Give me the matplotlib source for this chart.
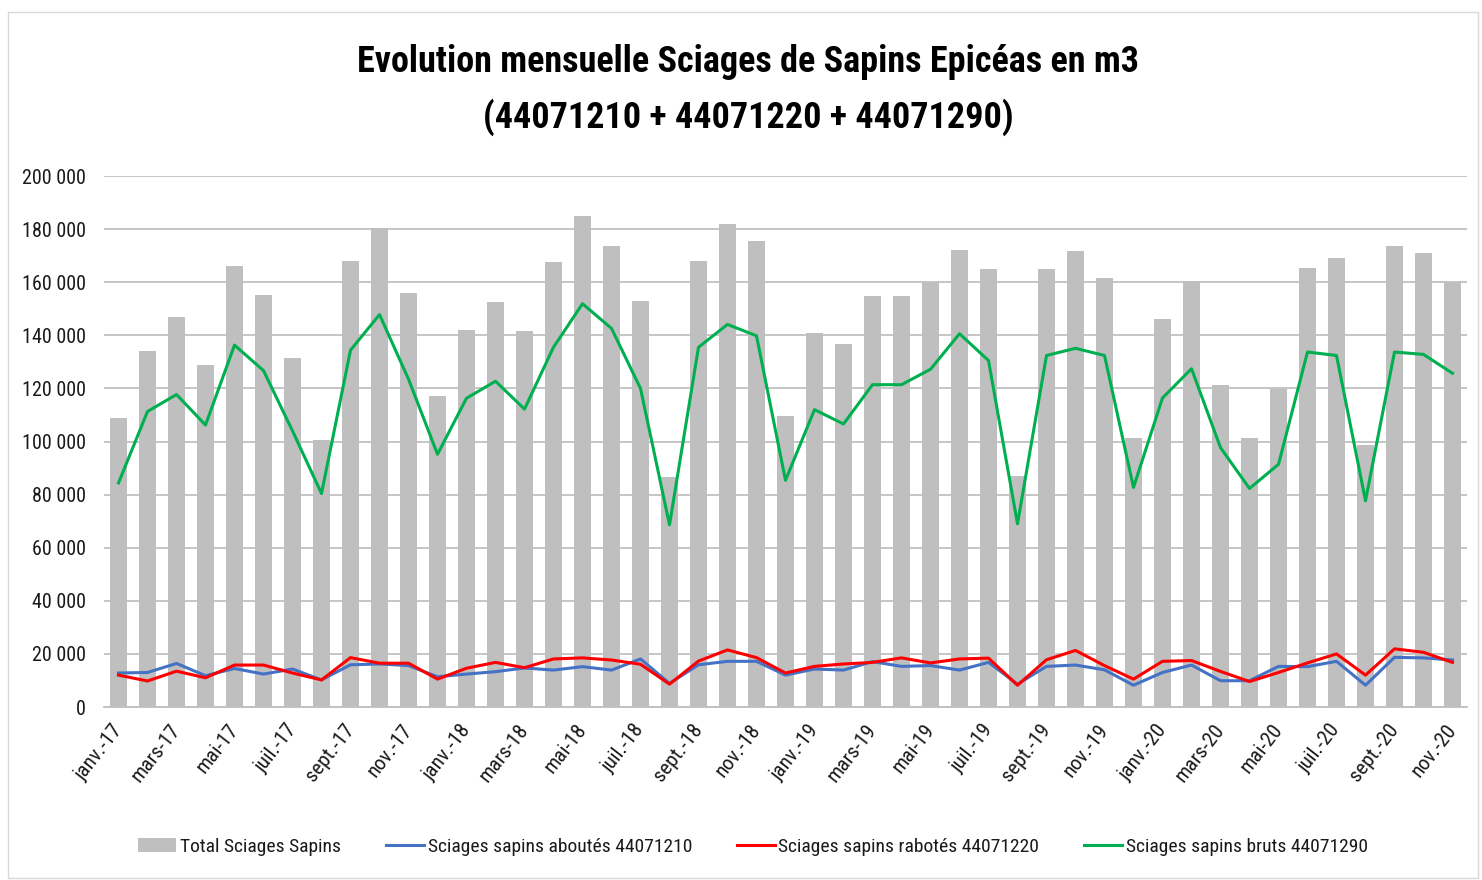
import matplotlib
matplotlib.use("Agg")
import matplotlib.pyplot as plt
import numpy as np
from matplotlib.patches import Rectangle
from matplotlib.ticker import FuncFormatter

plt.rcParams['font.family'] = ['Liberation Sans Narrow', 'Roboto Condensed', 'Roboto', 'DejaVu Sans']

months = ["janv.", "févr.", "mars", "avr.", "mai", "juin", "juil.", "août",
          "sept.", "oct.", "nov.", "déc."]
years = ["17", "18", "19", "20"]
categories = [f"{m}-{y}" for y in years for m in months][:47]

total = [109000, 134000, 147000, 129000, 166000, 155000, 131500, 100500, 168000, 180500, 156000, 117000,
         142000, 152500, 141500, 167500, 185000, 173500, 153000, 86700, 168000, 182000, 175500, 109700,
         141000, 136700, 154700, 154700, 160000, 172300, 164900, 87000, 164900, 171800, 161700, 101300,
         146000, 160600, 121200, 101300, 119600, 165300, 169100, 98500, 173700, 171000, 160100]

aboutes = [12800, 13000, 16400, 11800, 14500, 12400, 14300, 10200, 15900, 16200, 15600, 11400,
           12400, 13300, 14700, 13900, 15200, 13900, 18100, 8900, 15900, 17200, 17200, 12000,
           14300, 13900, 17100, 15300, 15600, 13900, 16800, 8600, 15300, 15800, 14000, 8200,
           13000, 15800, 9900, 9900, 15300, 15200, 17200, 8200, 18700, 18500, 17700]

rabotes = [12000, 9800, 13500, 11000, 15800, 15800, 12800, 10200, 18600, 16500, 16500, 10500,
           14600, 16800, 14800, 18100, 18500, 17700, 16100, 8600, 17300, 21500, 18600, 12800,
           15300, 16200, 16800, 18500, 16600, 18100, 18400, 8200, 17800, 21300, 15600, 10500,
           17200, 17500, 13400, 9600, 13000, 16600, 20000, 12000, 21900, 20600, 16800]

bruts = [84400, 111300, 117700, 106200, 136300, 126700, 104000, 80400, 134400, 147800, 123500, 95200,
         116300, 122700, 112200, 135500, 151900, 142600, 120000, 68600, 135500, 144100, 139800, 85400,
         112000, 106600, 121400, 121400, 127200, 140600, 130500, 69000, 132400, 135100, 132400, 82700,
         116400, 127400, 97700, 82300, 91400, 133700, 132400, 77700, 133700, 132800, 125700]

title1 = "Evolution mensuelle Sciages de Sapins Epicéas en m3"
title2 = "(44071210 + 44071220 + 44071290)"

W, H = 1482, 880
fig = plt.figure(figsize=(W / 100, H / 100), dpi=100)
ax = fig.add_axes([104 / W, 1 - 707 / H, (1467 - 104) / W, (707 - 176) / H])

x = np.arange(len(categories))
h_tot = ax.bar(x, total, width=0.57, color="#bfbfbf", zorder=2, label="Total Sciages Sapins")
h_ab, = ax.plot(x, aboutes, color="#4472c4", lw=2.2, zorder=3, label="Sciages sapins aboutés 44071210")
h_ra, = ax.plot(x, rabotes, color="#ff0000", lw=2.2, zorder=4, label="Sciages sapins rabotés 44071220")
h_br, = ax.plot(x, bruts, color="#00b050", lw=2.2, zorder=3, label="Sciages sapins bruts 44071290")

ax.set_xlim(-0.5, len(categories) - 0.5)
ax.set_ylim(0, 200000)
ax.set_yticks(np.arange(0, 200001, 20000))
ax.yaxis.set_major_formatter(FuncFormatter(lambda v, p: f"{int(v):,}".replace(",", " ")))
ax.grid(axis="y", color="#c0c0c0", lw=1.3, zorder=0)
for s in ["top", "right", "left"]:
    ax.spines[s].set_visible(False)
ax.spines["bottom"].set_color("#bfbfbf")
ax.spines["bottom"].set_linewidth(1.3)
ax.tick_params(axis="y", length=0, labelsize=14.5, pad=13, colors="#1a1a1a")
ax.set_xticks(x[::2])
ax.set_xticklabels(categories[::2], rotation=52, ha="right", va="center",
                   rotation_mode="anchor", fontsize=15)
ax.tick_params(axis="x", length=0, pad=14, colors="#1a1a1a")

fig.text(0.505, 1 - 62 / H, title1, ha="center", va="center", fontsize=26, fontweight="bold")
fig.text(0.505, 1 - 117 / H, title2, ha="center", va="center", fontsize=26, fontweight="bold")

fig.legend([h_tot, h_ab, h_ra, h_br],
           [h_tot.get_label(), h_ab.get_label(), h_ra.get_label(), h_br.get_label()],
           loc="center", bbox_to_anchor=(753 / W, 1 - 847 / H), ncol=4,
           frameon=False, fontsize=14, columnspacing=2.3, handlelength=1.95,
           handletextpad=0.2, labelcolor="#1a1a1a")

fig.patches.append(Rectangle((8 / W, 0.002), (1478 - 8) / W, 1 - 12 / H - 0.002,
                             transform=fig.transFigure, fill=False, edgecolor="#d9d9d9", lw=1))

fig.savefig("out.png", dpi=100)
